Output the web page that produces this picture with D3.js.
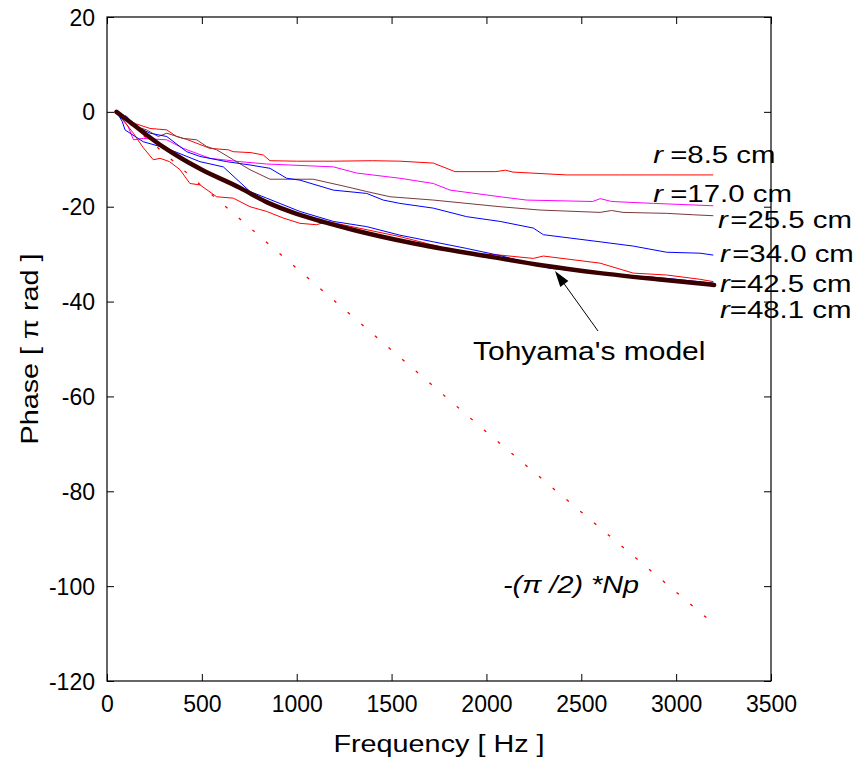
<!DOCTYPE html>
<html>
<head>
<meta charset="utf-8">
<script src="https://cdn.jsdelivr.net/npm/d3@7"></script>
<style>
  body { margin: 0; background: #fff; }
  text { font-family: "Liberation Sans", Arial, Helvetica, sans-serif; fill: #000; }
</style>
</head>
<body>
<div class="chart"></div>
<script>
// axis ticks
const xTicks = [0, 500, 1000, 1500, 2000, 2500, 3000, 3500]
const yTicks = [20, 0, -20, -40, -60, -80, -100, -120]

// measured phase curves, [Hz, pi rad]
const r85 = [[50,0],[100,-1.2],[150,-2.5],[227,-3.5],[315,-3.8],[367,-5.2],[420,-5.8],[543,-7.7],[640,-8],[665,-8.4],[760,-8.6],[824,-9.1],[859,-10.3],[1000,-10.4],[1193,-10.4],[1400,-10.3],[1544,-10.4],[1720,-10.8],[1834,-12.6],[2050,-12.6],[2100,-12.3],[2140,-12.7],[2423,-13.3],[2700,-13.3],[3195,-13.3]]
const r170 = [[50,0],[110,-3],[140,-5.9],[191,-5.6],[315,-5.9],[402,-7.7],[543,-9.8],[701,-10.5],[842,-11],[1193,-11.6],[1316,-12.9],[1544,-14],[1720,-15.1],[1808,-16.5],[2072,-17.9],[2212,-18.6],[2560,-18.9],[2600,-18.3],[2660,-18.9],[2880,-19.3],[3073,-19.6],[3195,-19.8]]
const r255 = [[50,0],[130,-2.8],[209,-3.8],[270,-5.2],[315,-4.5],[402,-5.6],[473,-5.9],[525,-7.3],[578,-8],[666,-10.1],[754,-12.2],[859,-14.2],[1087,-14.2],[1264,-15.8],[1369,-16.8],[1492,-17.9],[1720,-18.6],[2072,-20],[2282,-20.7],[2599,-21.2],[2660,-20.8],[2720,-21.2],[2950,-21.4],[3090,-21.7],[3196,-21.9]]
const r340 = [[50,0],[80,-1.5],[100,-0.8],[150,-3],[227,-4.5],[315,-5.2],[420,-8.4],[490,-9.4],[631,-10.5],[754,-11.2],[859,-11.9],[947,-14],[1017,-14.4],[1193,-16.5],[1369,-17.2],[1456,-18.6],[1544,-19.3],[1720,-20.3],[1896,-22.1],[2072,-23.1],[2247,-24.5],[2300,-25.9],[2599,-27.4],[2774,-28.3],[2950,-29.6],[3126,-29.8],[3196,-30.2]]
const r425 = [[50,0],[100,-2.5],[139,-4.5],[190,-7.5],[244,-10.1],[280,-9.8],[330,-10.5],[385,-12.2],[437,-15.1],[490,-15.4],[578,-17.9],[666,-18.2],[754,-20],[842,-21],[930,-22.4],[1017,-23.5],[1105,-23.8],[1158,-23.1],[1544,-26.3],[1720,-28.1],[1896,-29.8],[2072,-30.2],[2247,-30.9],[2300,-30.4],[2420,-31],[2599,-31.9],[2774,-34],[2950,-34.4],[3126,-35.3],[3196,-35.8]]
const r481 = [[50,0],[80,-2],[95,-3.8],[191,-6.3],[315,-7.7],[490,-10.5],[613,-11.6],[754,-16.8],[842,-18.2],[1017,-21],[1193,-23.1],[1369,-24.2],[1544,-26],[1720,-27.4],[1896,-28.8],[2072,-30.3],[2335,-33],[2599,-34],[2950,-35.1],[3196,-36.1]]
const tohyama = [[50,0],[100,-1.5],[200,-4.6],[300,-7.5],[400,-10],[500,-12.2],[700,-16],[850,-19.2],[1000,-21.5],[1150,-23.3],[1300,-24.9],[1600,-27.6],[2000,-30.4],[2300,-32.4],[2600,-34],[2900,-35.3],[3200,-36.5]]
const halfPiNp = [[50,0],[1000,-33],[2000,-67.5],[3200,-108]]

const seriesNames = ['8.5', '17.0', '25.5', '34.0', '42.5', '48.1']
const seriesColors = ['#ff0000', '#ff00ff', '#7a3a3a', '#0000ff', '#ff0000', '#0000ff']
const seriesData = [r85, r170, r255, r340, r425, r481]

const dims = {width: 865, height: 764}
const margin = {left: 107, top: 17, right: 94, bottom: 83}
const w = dims.width - margin.left - margin.right
const h = dims.height - margin.top - margin.bottom

const svg = d3.select('.chart')
.append('svg')
.attr('width', dims.width)
.attr('height', dims.height)

const graph = svg.append('g')
.attr('transform', `translate(${margin.left}, ${margin.top})`)

const x = d3.scaleLinear().domain([0, 3500]).range([0, w])
const y = d3.scaleLinear().domain([-120, 20]).range([h, 0])

const line = d3.line()
.x(d => x(d[0]))
.y(d => y(d[1]))

const smoothLine = d3.line()
.x(d => x(d[0]))
.y(d => y(d[1]))
.curve(d3.curveMonotoneX)

// plain hyphen minus like the original, not the unicode one
const fmt = d => String(d)

// frame + ticks (inward on all four sides, matlab style)
const tickLen = 7
const axisStyle = g => {
    g.select('.domain').remove()
    g.selectAll('.tick line').attr('stroke', '#000').attr('stroke-width', 1)
    g.selectAll('text').style('font-size', '23px')
}

graph.append('g')
.attr('transform', `translate(0, ${h})`)
.call(d3.axisBottom(x).tickValues(xTicks).tickFormat(fmt).tickSizeInner(-tickLen).tickSizeOuter(0).tickPadding(15))
.call(axisStyle)

graph.append('g')
.call(d3.axisLeft(y).tickValues(yTicks).tickFormat(fmt).tickSizeInner(-tickLen).tickSizeOuter(0).tickPadding(12))
.call(axisStyle)
.selectAll('text').attr('dy', '0.35em')

graph.append('g')
.call(d3.axisTop(x).tickValues(xTicks).tickFormat('').tickSizeInner(-tickLen).tickSizeOuter(0))
.call(axisStyle)

graph.append('g')
.attr('transform', `translate(${w}, 0)`)
.call(d3.axisRight(y).tickValues(yTicks).tickFormat('').tickSizeInner(-tickLen).tickSizeOuter(0))
.call(axisStyle)

graph.append('rect')
.attr('width', w)
.attr('height', h)
.attr('fill', 'none')
.attr('stroke', '#000')
.attr('stroke-width', 1.2)

// -(pi/2)*Np dotted line
graph.append('path')
.datum(halfPiNp)
.attr('d', line)
.attr('fill', 'none')
.attr('stroke', '#ff0000')
.attr('stroke-width', 1.3)
.attr('stroke-dasharray', '3,15')

// measured curves
graph.selectAll('.meas')
.data(seriesData)
.enter()
.append('path')
.attr('class', 'meas')
.attr('d', line)
.attr('fill', 'none')
.attr('stroke', (d, i) => seriesColors[i])
.attr('stroke-width', 1)
.attr('stroke-linejoin', 'round')

// Tohyama's model (thick)
graph.append('path')
.datum(tohyama)
.attr('d', smoothLine)
.attr('fill', 'none')
.attr('stroke', '#3a0000')
.attr('stroke-width', 4.5)
.attr('stroke-linecap', 'round')

// text labels, stretched a bit horizontally like the original
const stretch = 1.2
const labelPos = [
    {f: 2879, v: -10.8, gap: true},
    {f: 2879, v: -19.0, gap: true},
    {f: 3221, v: -24.5, gap: 'small'},
    {f: 3231, v: -31.6, gap: 'small'},
    {f: 3231, v: -38.0, gap: false},
    {f: 3231, v: -43.5, gap: false}
]

labelPos.forEach((p, i) => {
    const t = svg.append('text')
    .attr('transform', `translate(${margin.left + x(p.f)}, ${margin.top + y(p.v)}) scale(${stretch},1)`)
    .style('font-size', '24.5px')
    t.append('tspan').style('font-style', 'italic').text('r')
    t.append('tspan')
    .attr('dx', p.gap === true ? 6 : (p.gap === 'small' ? 2 : 0))
    .text(`=${seriesNames[i]} cm`)
})

// annotation arrow
const tail = [598, 331], tip = [555, 271]
const len = Math.hypot(tip[0] - tail[0], tip[1] - tail[1])
const ux = (tip[0] - tail[0]) / len, uy = (tip[1] - tail[1]) / len
const headL = 16, headW = 5
const bx = tip[0] - ux * headL, by = tip[1] - uy * headL

svg.append('line')
.attr('x1', tail[0]).attr('y1', tail[1])
.attr('x2', bx).attr('y2', by)
.attr('stroke', '#000')
.attr('stroke-width', 1)

svg.append('path')
.attr('d', `M${tip[0]},${tip[1]} L${bx - uy * headW},${by + ux * headW} L${bx + uy * headW},${by - ux * headW} Z`)
.attr('fill', '#000')

svg.append('text')
.attr('transform', `translate(473, 360) scale(${stretch},1)`)
.style('font-size', '25px')
.text("Tohyama's model")

const np = svg.append('text')
.attr('transform', `translate(503, 593) scale(${stretch},1)`)
.style('font-size', '24px')
.style('font-style', 'italic')
np.append('tspan').text('-(π /2) *')
np.append('tspan').text('N')
np.append('tspan').text('p')

// axis titles
svg.append('text')
.attr('transform', `translate(${margin.left + w / 2}, 752) scale(${stretch},1)`)
.attr('text-anchor', 'middle')
.style('font-size', '24px')
.text('Frequency [ Hz ]')

svg.append('text')
.attr('transform', `translate(38, ${margin.top + h / 2}) rotate(-90) scale(${stretch},1)`)
.attr('text-anchor', 'middle')
.style('font-size', '24px')
.text('Phase [ π rad ]')
</script>
</body>
</html>
